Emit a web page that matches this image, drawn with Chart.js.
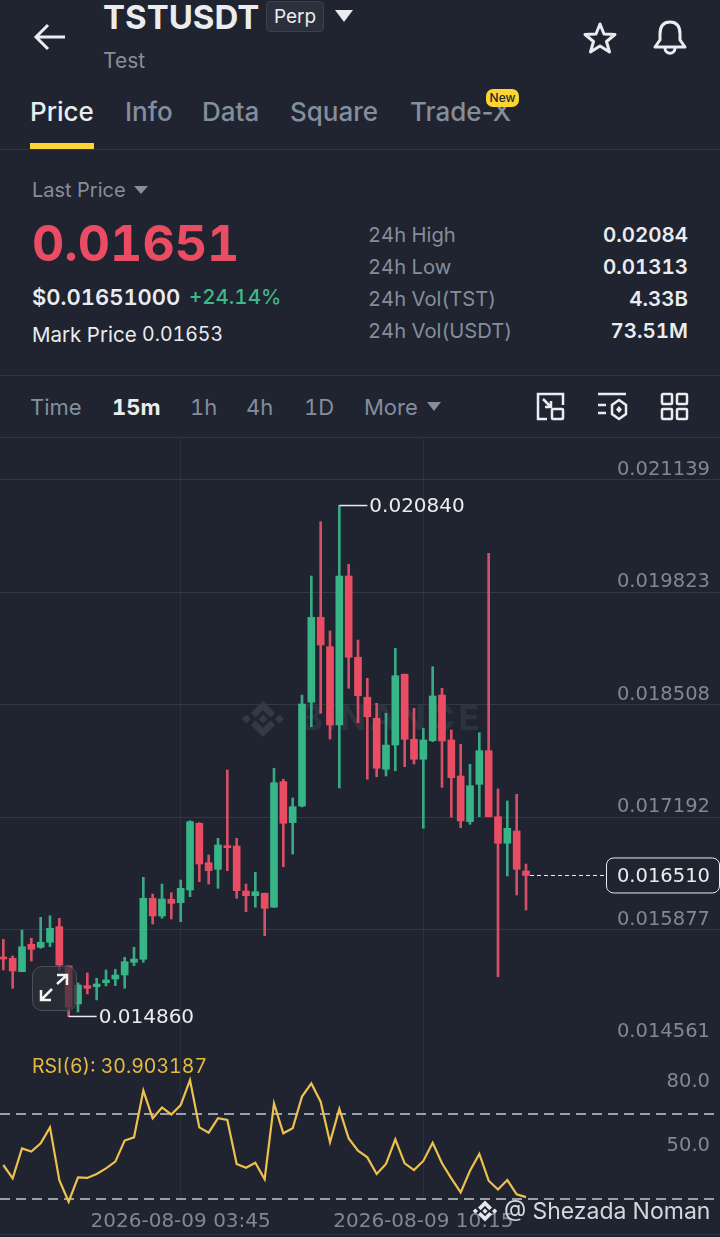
<!DOCTYPE html>
<html>
<head>
<meta charset="utf-8">
<script src="https://cdn.jsdelivr.net/npm/chart.js@4"></script>
<style>
    html, body { margin: 0; padding: 0; background: #1f2430; }
    body { position: relative; width: 720px; height: 1237px; overflow: hidden; font-family: Inter, "Noto Sans", sans-serif; font-variant-numeric: tabular-nums; color: #eaecef; }
    .t { position: absolute; white-space: nowrap; line-height: 1; transform: translateY(-50%); }
    .gray { color: #848e9c; }
    .r { text-align: right; transform: translate(-100%, -50%); }
    .line { position: absolute; left: 0; width: 720px; height: 1px; background: #2e3440; }
    svg { position: absolute; overflow: visible; }
    canvas { position: absolute; left: 0; display: block; }
</style>
</head>
<body>
<svg width="0" height="0" style="left:0;top:0">
    <symbol id="bnb" viewBox="0 0 32 32">
        <path d="M16 4L24 12L21 15L16 10L11 15L8 12Z M16 28L24 20L21 17L16 22L11 17L8 20Z M16 13L19 16L16 19L13 16Z M5 13L8 16L5 19L2 16Z M27 13L30 16L27 19L24 16Z"/>
    </symbol>
</svg>

<!-- header -->
<svg style="left:34px;top:22px" width="32" height="30" fill="none" stroke="#eaecef" stroke-width="3"><path d="M31 15H3M14 3L2 15L14 27"/></svg>
<div class="t" style="left:103px;top:17px;font-size:33px;font-weight:700">TSTUSDT</div>
<div style="position:absolute;left:266px;top:1px;width:56px;height:29px;background:#2a303c;border:1px solid #3a414e;border-radius:4px;text-align:center;line-height:29px;font-size:19px">Perp</div>
<svg style="left:335px;top:10px" width="18" height="12" fill="#eaecef"><path d="M0 0H18L9 12Z"/></svg>
<div class="t gray" style="left:103px;top:60px;font-size:21px">Test</div>
<svg style="left:584px;top:22px" width="32" height="32" fill="none" stroke="#eaecef" stroke-width="3" stroke-linejoin="round"><path d="M16 2L20 12L31 12.500L22.500 19.500L25.500 30L16 24L6.500 30L9.500 19.500L1 12.500L12 12Z"/></svg>
<svg style="left:654px;top:20px" width="32" height="35" fill="none" stroke="#eaecef" stroke-width="3" stroke-linejoin="round"><path d="M16 2C8 2 6 8 6 14V20L1 27H31L26 20V14C26 8 24 2 16 2Z M11 28C11 35 21 35 21 28"/></svg>

<!-- tabs -->
<div class="t" style="left:30px;top:112px;font-size:26px;font-weight:500">Price</div>
<div class="t gray" style="left:125px;top:112px;font-size:26px;font-weight:500">Info</div>
<div class="t gray" style="left:202px;top:112px;font-size:26px;font-weight:500">Data</div>
<div class="t gray" style="left:290px;top:112px;font-size:26px;font-weight:500">Square</div>
<div class="t gray" style="left:410px;top:112px;font-size:26px;font-weight:500;font-variant-numeric:normal">Trade-X</div>
<div style="position:absolute;left:486px;top:89px;width:33px;height:18px;background:#fcd535;border-radius:7px;color:#202630;font-size:12px;font-weight:500;text-align:center;line-height:18px">New</div>
<div style="position:absolute;left:30px;top:143px;width:64px;height:6px;background:#fcd535"></div>
<div class="line" style="top:149px"></div>

<!-- price summary -->
<div class="t gray" style="left:32px;top:190px;font-size:20px">Last Price</div>
<svg style="left:134px;top:186px" width="14" height="8" fill="#848e9c"><path d="M0 0H14L7 8Z"/></svg>
<div class="t" style="left:32px;top:243px;font-size:50px;font-weight:700;color:#ea4d63">0.01651</div>
<div class="t" style="left:32px;top:297px;font-size:22px;font-weight:600">$0.01651000</div>
<div class="t" style="left:189px;top:297px;font-size:20.500px;font-weight:500;color:#3cb88a">+24.14%</div>
<div class="t" style="left:32px;top:335px;font-size:20.500px">Mark Price</div>
<div class="t" style="left:142px;top:335px;font-size:19.500px">0.01653</div>
<div class="t gray" style="left:368px;top:235px;font-size:20.200px">24h High</div>
<div class="t gray" style="left:368px;top:267px;font-size:20.200px">24h Low</div>
<div class="t gray" style="left:368px;top:299px;font-size:20.200px">24h Vol(TST)</div>
<div class="t gray" style="left:368px;top:331px;font-size:20.200px">24h Vol(USDT)</div>
<div class="t r" style="left:688px;top:235px;font-size:20.500px;font-weight:600">0.02084</div>
<div class="t r" style="left:688px;top:267px;font-size:20.500px;font-weight:600">0.01313</div>
<div class="t r" style="left:688px;top:299px;font-size:20.500px;font-weight:600">4.33B</div>
<div class="t r" style="left:688px;top:331px;font-size:20.500px;font-weight:600">73.51M</div>
<div class="line" style="top:375px"></div>

<!-- toolbar -->
<div class="t gray" style="left:30px;top:407px;font-size:22px">Time</div>
<div class="t" style="left:112px;top:407px;font-size:22px;font-weight:700">15m</div>
<div class="t gray" style="left:190px;top:407px;font-size:22px">1h</div>
<div class="t gray" style="left:246px;top:407px;font-size:22px">4h</div>
<div class="t gray" style="left:304px;top:407px;font-size:22px">1D</div>
<div class="t gray" style="left:364px;top:407px;font-size:22px">More</div>
<svg style="left:427px;top:402px" width="14" height="9" fill="#848e9c"><path d="M0 0H14L7 9Z"/></svg>
<svg style="left:537px;top:393px" width="27" height="27" fill="none" stroke="#eaecef" stroke-width="2.500"><path d="M26 12V1H1V26H10M6 6L14 14M14 8V14H8"/><rect x="15" y="16" width="11" height="10" rx="1"/></svg>
<svg style="left:598px;top:393px" width="30" height="28" fill="none" stroke="#eaecef" stroke-width="2.500"><path d="M0 1H28M0 12H8M0 20H8M21 7L28 12V21L21 26L14 21V12Z"/><path d="M21 13L24 16.500L21 20L18 16.500Z" fill="#eaecef" stroke="none"/></svg>
<svg style="left:661px;top:393px" width="27" height="27" fill="none" stroke="#eaecef" stroke-width="2.500"><rect x="1" y="1" width="10" height="10" rx="1"/><rect x="16" y="1" width="10" height="10" rx="1"/><rect x="1" y="16" width="10" height="10" rx="1"/><rect x="16" y="16" width="10" height="10" rx="1"/></svg>
<div class="line" style="top:437px"></div>

<!-- watermark sits under the transparent canvas -->
<svg style="left:239px;top:695px;fill:#333945" width="48" height="48"><use href="#bnb"/></svg>
<div class="t" style="left:300px;top:718px;font-size:34px;font-weight:700;letter-spacing:4px;color:#2d333e">BINANCE</div>

<canvas id="priceChart" width="720" height="605" style="top:437px"></canvas>
<canvas id="rsiChart" width="720" height="195" style="top:1042px"></canvas>

<div class="t" style="left:32px;top:1067px;font-size:19.500px;color:#e8b93f">RSI(6): 30.903187</div>

<!-- expand button -->
<div style="position:absolute;left:32px;top:966px;width:43px;height:43px;border:1.500px solid #4a4f59;border-radius:10px;background:rgba(45,48,56,0.72)"></div>
<svg style="left:40px;top:974px" width="28" height="28" fill="none" stroke="#f2f3f5" stroke-width="2.500"><path d="M1 26L12 15M1 16V26H11M17 10L27 1M17 1H27V11"/></svg>

<!-- screenshot credit -->
<svg style="left:471px;top:1197px;fill:#e6e8ec" width="28" height="28"><use href="#bnb"/></svg>
<div class="t" style="left:504px;top:1211px;font-size:23px;color:#d4d7dc">@ Shezada Noman</div>
<div class="line" style="top:1234px"></div>

<script>
// 15m candles, oldest first
const candleTimes = ['23:00','23:15','23:30','23:45','00:00','00:15','00:30','00:45','01:00','01:15','01:30','01:45','02:00','02:15','02:30','02:45','03:00','03:15','03:30','03:45','04:00','04:15','04:30','04:45','05:00','05:15','05:30','05:45','06:00','06:15','06:30','06:45','07:00','07:15','07:30','07:45','08:00','08:15','08:30','08:45','09:00','09:15','09:30','09:45','10:00','10:15','10:30','10:45','11:00','11:15','11:30','11:45','12:00','12:15','12:30','12:45','13:00'];

const opens = [0.015544,0.015541,0.015384,0.015705,0.015669,0.015728,0.015911,0.015451,0.015006,0.015220,0.015208,0.015255,0.015298,0.015345,0.015494,0.015529,0.016243,0.016036,0.016231,0.016191,0.016340,0.017121,0.016660,0.016582,0.016859,0.016855,0.016328,0.016273,0.016301,0.016138,0.017608,0.017128,0.017323,0.018537,0.019532,0.019188,0.018271,0.020015,0.019064,0.018596,0.018350,0.017753,0.018037,0.018865,0.018104,0.017870,0.018088,0.018622,0.018096,0.017674,0.017140,0.017577,0.017971,0.017198,0.016887,0.017031,0.016562];
const highs = [0.015763,0.015568,0.015872,0.015775,0.016021,0.016039,0.016009,0.015451,0.015252,0.015369,0.015307,0.015404,0.015412,0.015552,0.015669,0.016489,0.016293,0.016410,0.016308,0.016457,0.017151,0.017128,0.016750,0.016945,0.017745,0.016945,0.016410,0.016547,0.016305,0.017765,0.017636,0.017417,0.018622,0.020015,0.020651,0.019372,0.020840,0.020152,0.019266,0.018818,0.018525,0.018408,0.019169,0.018868,0.018467,0.018233,0.018954,0.018701,0.018213,0.018046,0.017811,0.018181,0.020281,0.017522,0.017382,0.017460,0.016644];
const lows = [0.015404,0.015190,0.015384,0.015509,0.015658,0.015676,0.015404,0.014860,0.014912,0.015123,0.015053,0.015217,0.015220,0.015190,0.015454,0.015494,0.015942,0.016009,0.016001,0.015969,0.016262,0.016437,0.016410,0.016360,0.016566,0.016243,0.016086,0.016138,0.015805,0.016138,0.016613,0.016761,0.017312,0.018251,0.018408,0.018107,0.017534,0.018701,0.018298,0.017636,0.017666,0.017674,0.017736,0.017783,0.017815,0.017062,0.018076,0.017542,0.017191,0.017069,0.017109,0.017198,0.017195,0.015325,0.016504,0.016282,0.016106];
const closes = [0.015532,0.015392,0.015676,0.015646,0.015728,0.015892,0.015462,0.014971,0.015228,0.015190,0.015240,0.015287,0.015345,0.015501,0.015532,0.016243,0.016036,0.016235,0.016184,0.016360,0.017140,0.016644,0.016566,0.016867,0.016835,0.016332,0.016273,0.016320,0.016126,0.017596,0.017121,0.017315,0.018517,0.019532,0.019208,0.018271,0.020015,0.019064,0.018614,0.018368,0.017765,0.018037,0.018848,0.018104,0.017870,0.018096,0.018611,0.018084,0.017655,0.017148,0.017561,0.017971,0.017198,0.016887,0.017062,0.016582,0.016510];

const rsiValues = [46.0,39.7,53.8,52.3,56.2,63.7,38.9,28.7,40.2,39.9,41.8,44.4,47.6,57.5,59.0,81.0,68.0,73.1,69.8,74.2,86.0,63.7,61.2,68.0,67.2,46.5,44.7,47.1,39.3,75.0,60.9,63.3,78.2,84.4,75.8,56.7,72.4,58.5,52.7,49.6,41.8,46.5,58.1,46.8,43.6,47.9,56.5,46.8,39.7,33.1,43.3,51.2,38.6,34.5,38.9,32.2,30.9];

const priceTicks = [0.021139,0.019823,0.018508,0.017192,0.015877,0.014561];
const rsiTicks = [80,70,50,30];
const rsiLabelled = [80,50];
const xTickIndexes = [19,45];
const xTickDate = '2026-08-09';
const lastPrice = 0.016510;

const colors = {
    up: '#37b587',
    down: '#ea4d63',
    upWick: '#3aa884',
    downWick: '#d64f66',
    grid: '#323844',
    gridV: '#2b313c',
    tick: '#7f8896',
    rsi: '#eec04e',
    dash: '#9b9fa7'
};

const axisFont = { family: 'DejaVu Sans', size: 19.5 };
const xRange = { min: -0.357, max: 76.786 };

const isUp = closes.map((c, i) => c >= opens[i]);
const wickBars = highs.map((h, i) => ({ x: i, y: [lows[i], h] }));
const bodyBars = opens.map((o, i) => ({ x: i, y: [o, closes[i]] }));

// mirrored y axes still reserve room in the layout, take it back so the plot fills the canvas
function flushYAxis(scale) {
    scale.width = 0;
    scale.paddingTop = 0;
    scale.paddingBottom = 0;
}

// Callouts for the extremes and the last price, placed from the price scale
const calloutPlugin = {
    id: 'callouts',
    afterDatasetsDraw(chart) {
        const { ctx, scales } = chart;
        const hi = Math.max(...highs), lo = Math.min(...lows);
        const marks = [[highs.indexOf(hi), hi], [lows.indexOf(lo), lo]];
        ctx.save();
        ctx.font = '20px "DejaVu Sans"';
        ctx.textBaseline = 'middle';
        marks.forEach(([i, v]) => {
            const x = scales.x.getPixelForValue(i), y = scales.y.getPixelForValue(v);
            ctx.strokeStyle = '#eaecef';
            ctx.lineWidth = 1.5;
            ctx.beginPath();
            ctx.moveTo(x, y);
            ctx.lineTo(x + 28, y);
            ctx.stroke();
            ctx.fillStyle = '#eaecef';
            ctx.fillText(v.toFixed(6), x + 30, y + 1);
        });

        const lastX = scales.x.getPixelForValue(closes.length - 1);
        const lastY = scales.y.getPixelForValue(lastPrice);
        ctx.setLineDash([4, 3]);
        ctx.strokeStyle = '#f2f3f5';
        ctx.lineWidth = 1;
        ctx.beginPath();
        ctx.moveTo(lastX + 4, lastY);
        ctx.lineTo(606, lastY);
        ctx.stroke();
        ctx.setLineDash([]);
        ctx.beginPath();
        ctx.roundRect(606.5, lastY - 17.5, 113, 35, 7);
        ctx.fillStyle = '#1f2430';
        ctx.fill();
        ctx.strokeStyle = '#eaecef';
        ctx.stroke();
        ctx.fillStyle = '#eaecef';
        ctx.textAlign = 'right';
        ctx.font = '19.5px "DejaVu Sans"';
        ctx.fillText(lastPrice.toFixed(6), 710, lastY + 1);
        ctx.restore();
    }
};

new Chart(document.getElementById('priceChart'), {
    type: 'bar',
    data: {
        datasets: [
            {
                data: wickBars,
                backgroundColor: isUp.map(u => u ? colors.upWick : colors.downWick),
                barThickness: 2,
                order: 2
            },
            {
                data: bodyBars,
                backgroundColor: isUp.map(u => u ? colors.up : colors.down),
                barThickness: 7,
                minBarLength: 2,
                order: 1
            }
        ]
    },
    options: {
        responsive: false,
        animation: false,
        layout: { padding: 0 },
        plugins: { legend: { display: false }, tooltip: { enabled: false } },
        datasets: { bar: { grouped: false } },
        scales: {
            x: {
                type: 'linear',
                offset: false,
                min: xRange.min,
                max: xRange.max,
                afterBuildTicks: s => { s.ticks = xTickIndexes.map(v => ({ value: v })); },
                ticks: { display: false },
                grid: { color: colors.gridV, drawTicks: false, offset: false },
                border: { display: false }
            },
            y: {
                position: 'right',
                min: 0.014561,
                max: 0.021642,
                afterBuildTicks: s => { s.ticks = priceTicks.map(v => ({ value: v })); },
                afterFit: flushYAxis,
                ticks: {
                    mirror: true,
                    padding: -10,
                    labelOffset: -10,
                    color: colors.tick,
                    font: axisFont,
                    callback: v => v.toFixed(6)
                },
                grid: { color: colors.grid, drawTicks: false },
                border: { display: false }
            }
        }
    },
    plugins: [calloutPlugin]
});

new Chart(document.getElementById('rsiChart'), {
    type: 'line',
    data: {
        labels: candleTimes,
        datasets: [{
            data: rsiValues.map((v, i) => ({ x: i, y: v })),
            borderColor: colors.rsi,
            borderWidth: 2.2,
            pointRadius: 0,
            tension: 0,
            clip: false
        }]
    },
    options: {
        responsive: false,
        animation: false,
        layout: { padding: 0 },
        plugins: { legend: { display: false }, tooltip: { enabled: false } },
        scales: {
            x: {
                type: 'linear',
                min: xRange.min,
                max: xRange.max,
                afterBuildTicks: s => { s.ticks = xTickIndexes.map(v => ({ value: v })); },
                afterFit: s => { s.height = 37; s.paddingLeft = 0; s.paddingRight = 0; },
                ticks: {
                    autoSkip: false,
                    maxRotation: 0,
                    padding: 10,
                    color: colors.tick,
                    font: { family: 'DejaVu Sans', size: 20 },
                    callback: v => xTickDate + ' ' + candleTimes[v]
                },
                grid: { color: colors.gridV, drawTicks: false },
                border: { display: false }
            },
            y: {
                position: 'right',
                min: 29.53,
                max: 103.88,
                afterBuildTicks: s => { s.ticks = rsiTicks.map(v => ({ value: v })); },
                afterFit: flushYAxis,
                ticks: {
                    mirror: true,
                    padding: -10,
                    labelOffset: -11,
                    color: colors.tick,
                    font: axisFont,
                    callback: v => rsiLabelled.includes(v) ? v.toFixed(1) : ''
                },
                grid: {
                    color: c => rsiLabelled.includes(c.tick.value) ? 'transparent' : colors.dash,
                    lineWidth: 2,
                    drawTicks: false
                },
                border: { display: false, dash: [10, 6] }
            }
        }
    }
});
</script>
</body>
</html>
